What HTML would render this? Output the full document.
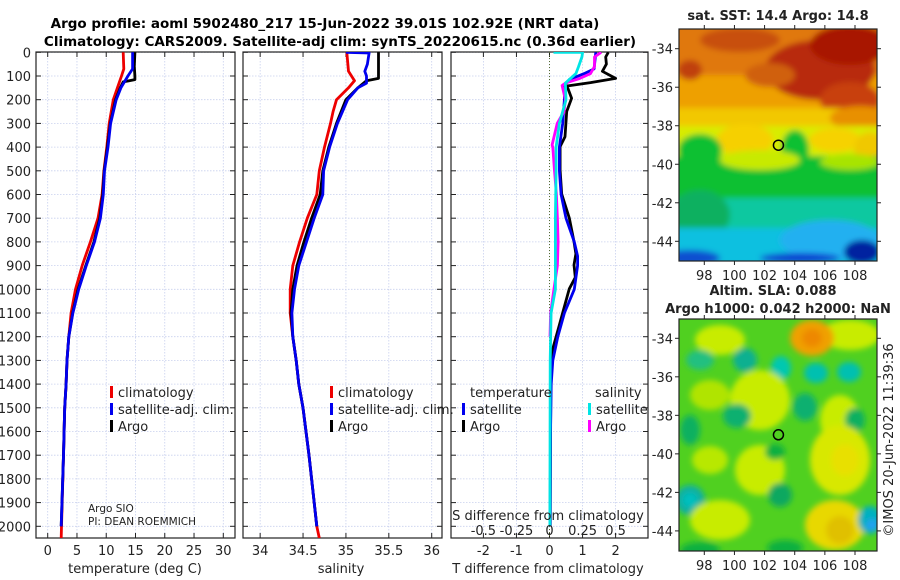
<!DOCTYPE html>
<html><head><meta charset="utf-8"><style>
html,body{margin:0;padding:0;background:#fff;}
svg{display:block;font-family:"DejaVu Sans","Liberation Sans",sans-serif;}
</style></head><body>
<svg id="fig" width="900" height="580" viewBox="0 0 900 580">
<defs>
<clipPath id="c1"><rect x="36" y="52" width="199" height="486"/></clipPath>
<clipPath id="c2"><rect x="243" y="52" width="199" height="486"/></clipPath>
<clipPath id="c3"><rect x="451" y="52" width="197" height="486"/></clipPath>
<clipPath id="cm1"><rect x="679" y="29" width="198" height="232"/></clipPath>
<clipPath id="cm2"><rect x="679" y="319" width="198" height="232"/></clipPath>
<filter id="bl" x="-20%" y="-20%" width="140%" height="140%"><feGaussianBlur stdDeviation="3"/></filter>
<filter id="bl2" x="-50%" y="-50%" width="200%" height="200%"><feGaussianBlur stdDeviation="6"/></filter>
</defs>
<text x="325" y="28" text-anchor="middle" font-size="13.5" font-weight="bold">Argo profile: aoml 5902480_217 15-Jun-2022 39.01S 102.92E (NRT data)</text>
<text x="340" y="46" text-anchor="middle" font-size="13.5" font-weight="bold">Climatology: CARS2009. Satellite-adj clim: synTS_20220615.nc (0.36d earlier)</text>
<g id="plots"></g>
<g id="maps"></g>
<text transform="translate(893,440) rotate(-90)" text-anchor="middle" font-size="13" fill="#222">©IMOS 20-Jun-2022 11:39:36</text>
</svg>
<script>
// depth grid for y axis
const depthTicks = [0,100,200,300,400,500,600,700,800,900,1000,1100,1200,1300,1400,1500,1600,1700,1800,1900,2000];
// temperature panel
const tempTicks = [0,5,10,15,20,25,30];
const tempClimDepth = [0,70,100,150,200,300,400,500,600,700,800,900,1000,1100,1200,1300,1400,1500,1700,2000,2050];
const tempClim = [12.9,13.0,12.6,11.9,11.2,10.5,10.1,9.6,9.3,8.6,7.3,5.9,4.75,4.0,3.6,3.3,3.15,2.9,2.7,2.35,2.3];
const tempSatDepth = [0,70,100,150,200,300,400,500,600,700,800,900,1000,1100,1200,1300,1400,1500,1700,2000];
const tempSat = [14.5,14.5,13.7,12.5,11.7,10.75,10.3,9.7,9.5,9.0,8.0,6.6,5.3,4.3,3.6,3.3,3.15,2.9,2.7,2.3];
const tempArgoDepth = [0,60,100,115,125,150,200,300,400,500,600,700,800,900,1000,1100,1200,1300,1400,1500,1700,2000];
const tempArgo = [14.9,14.8,14.9,14.9,12.9,12.4,11.6,10.7,10.2,9.65,9.4,8.9,7.9,6.5,5.2,4.25,3.6,3.3,3.15,2.9,2.7,2.3];
// salinity panel
const salTicks = [34,34.5,35,35.5,36];
const salClimDepth = [0,80,120,150,200,250,300,400,500,600,700,800,900,1000,1100,1200,1300,1400,1500,1700,2000,2050];
const salClim = [35.01,35.03,35.1,35.03,34.89,34.85,34.82,34.75,34.69,34.66,34.55,34.46,34.38,34.35,34.35,34.38,34.42,34.45,34.5,34.57,34.66,34.69];
const salSatDepth = [0,3,50,80,100,130,150,200,300,400,500,600,700,800,900,1000,1100,1200,1300,1400,1500,1700,2000];
const salSat = [35.0,35.27,35.25,35.22,35.24,35.24,35.14,35.02,34.9,34.81,34.74,34.73,34.63,34.54,34.45,34.4,34.37,34.38,34.42,34.45,34.5,34.57,34.66];
const salArgoDepth = [0,110,120,150,200,300,400,500,600,700,800,900,1000,1100,1200,1300,1400,1500,1700,2000];
const salArgo = [35.38,35.38,35.24,35.14,35.0,34.89,34.8,34.73,34.7,34.6,34.51,34.43,34.38,34.36,34.38,34.42,34.45,34.5,34.57,34.66];
// difference panel (T diff in deg C, S diff in psu)
const diffTicksT = [-2,-1,0,1,2];
const diffTicksS = [-0.5,-0.25,0,0.25,0.5];
const tDiffSatDepth = [0,70,90,115,140,200,300,400,500,600,700,800,860,900,1000,1100,1200,1300,1400,1600,2000];
const tDiffSat = [1.4,1.35,1.05,0.6,0.45,0.45,0.4,0.3,0.3,0.35,0.5,0.75,0.85,0.85,0.75,0.45,0.25,0.1,0.05,0.03,0.02];
const tDiffArgoDepth = [0,20,50,80,110,128,142,194,250,356,398,497,598,699,799,850,897,950,998,1099,1150,1250,1400,2000];
const tDiffArgo = [1.78,1.7,1.72,1.6,2.0,1.24,0.53,0.67,0.52,0.47,0.32,0.32,0.37,0.6,0.74,0.8,0.74,0.78,0.6,0.4,0.3,0.1,0.04,0.02];
const sDiffSatDepth = [0,0.5,20,60,90,130,200,300,400,500,700,1000,1100,1300,2000];
const sDiffSat = [0.03,0.25,0.245,0.22,0.2,0.12,0.125,0.075,0.05,0.05,0.045,0.045,0.012,0.005,0.003];
const sDiffArgoDepth = [0,20,60,90,110,130,140,200,250,300,391,400,500,600,700,800,900,1000,1100,1200];
const sDiffArgo = [0.39,0.34,0.34,0.31,0.23,0.12,0.095,0.12,0.11,0.058,0.02,0.025,0.038,0.052,0.06,0.065,0.06,0.033,0.008,0.004];
// map tick labels
const lonTicks = [98,100,102,104,106,108];
const latTicks = [-34,-36,-38,-40,-42,-44];
const floatLon = 102.92, floatLat = -39.01;

const NS = 'http://www.w3.org/2000/svg';
function mk(tag, attrs, parent){const e=document.createElementNS(NS,tag);for(const k in attrs)e.setAttribute(k,attrs[k]);parent.appendChild(e);return e;}
const plots = document.getElementById('plots');
const maps = document.getElementById('maps');
const Y0=52, Y1=538;
const yD = d => 52.3 + d*0.237;
function panel(x0,x1,xmin,xmax,ticks,name,clip,labelLeft){
  const g = mk('g',{},plots);
  
  
  const xs = v => x0 + (v-xmin)/(xmax-xmin)*(x1-x0);
  ticks.forEach(t=>{const l=mk('line',{x1:xs(t),x2:xs(t),y1:Y0,y2:Y1,stroke:'#c8d0ee','stroke-width':0.8,'stroke-dasharray':'1.5,1.5'},g);
    
    });
  depthTicks.forEach(d=>{const l=mk('line',{x1:x0,x2:x1,y1:yD(d),y2:yD(d),stroke:'#c8d0ee','stroke-width':0.8,'stroke-dasharray':'1.5,1.5'},g);
    
    
    mk('line',{x1:x0,x2:x0+5,y1:yD(d),y2:yD(d),stroke:'#222'},g);
    mk('line',{x1:x1-5,x2:x1,y1:yD(d),y2:yD(d),stroke:'#222'},g);
    if(labelLeft){const t=mk('text',{x:x0-5,y:yD(d)+5,'text-anchor':'end','font-size':13,fill:'#222'},g);t.textContent=d;
      
      }
  });
  const fr=mk('rect',{x:x0,y:Y0,width:x1-x0,height:Y1-Y0,fill:'none',stroke:'#222','stroke-width':1.2},g);
  
  
  return {g,xs};
}
function line(p,xs,depths,vals,color,w,name,clip){
  const pts = depths.map((d,i)=>xs(vals[i]).toFixed(1)+','+yD(d).toFixed(1)).join(' ');
  const pl = mk('polyline',{points:pts,fill:'none',stroke:color,'stroke-width':w,'stroke-linejoin':'round','clip-path':'url(#'+clip+')'},p);
  
  
}
function txt(p,x,y,s,size,name,anchor,extra){const t=mk('text',Object.assign({x:x,y:y,'font-size':size,fill:'#222','text-anchor':anchor||'start'},extra||{}),p);t.textContent=s;
  
  return t;}
function legend(p,x,y,items){
  items.forEach((it,i)=>{const yy=y+i*17;
    const r=mk('rect',{x:x,y:yy-11,width:3,height:12,fill:it[1]},p);
    
    
    txt(p,x+8,yy,it[0],13,'legend-entry');});
}
// Panel 1 temperature
const P1 = panel(36,235,-2,32,tempTicks,'temperature','c1',true);
tempTicks.forEach(t=>{mk('line',{x1:P1.xs(t),x2:P1.xs(t),y1:Y1,y2:Y1-5,stroke:'#222'},P1.g);mk('line',{x1:P1.xs(t),x2:P1.xs(t),y1:Y0,y2:Y0+5,stroke:'#222'},P1.g);txt(P1.g,P1.xs(t),555,t,13,'temp-tick-label','middle');});
line(P1.g,P1.xs,tempClimDepth,tempClim,'#ee0000',2.8,'temp-climatology-line','c1');
line(P1.g,P1.xs,tempArgoDepth,tempArgo,'#000',2.8,'temp-argo-line','c1');
line(P1.g,P1.xs,tempSatDepth,tempSat,'#0000ee',2.8,'temp-satellite-line','c1');
txt(P1.g,135,573,'temperature (deg C)',13,'temperature-axis-title','middle');
legend(P1.g,110,397,[['climatology','#ee0000'],['satellite-adj. clim.','#0000ee'],['Argo','#000']]);
txt(P1.g,88,512,'Argo SIO',10.5,'float-institution');
txt(P1.g,88,525,'PI: DEAN ROEMMICH',10.5,'float-pi');
// Panel 2 salinity
const P2 = panel(243,442,33.8,36.12,salTicks,'salinity','c2',false);
salTicks.forEach(t=>{mk('line',{x1:P2.xs(t),x2:P2.xs(t),y1:Y1,y2:Y1-5,stroke:'#222'},P2.g);mk('line',{x1:P2.xs(t),x2:P2.xs(t),y1:Y0,y2:Y0+5,stroke:'#222'},P2.g);txt(P2.g,P2.xs(t),555,t,13,'sal-tick-label','middle');});
line(P2.g,P2.xs,salClimDepth,salClim,'#ee0000',2.8,'sal-climatology-line','c2');
line(P2.g,P2.xs,salArgoDepth,salArgo,'#000',2.8,'sal-argo-line','c2');
line(P2.g,P2.xs,salSatDepth,salSat,'#0000ee',2.8,'sal-satellite-line','c2');
txt(P2.g,341,573,'salinity',13,'salinity-axis-title','middle');
legend(P2.g,330,397,[['climatology','#ee0000'],['satellite-adj. clim.','#0000ee'],['Argo','#000']]);
// Panel 3 differences
const P3 = panel(451,648,-2.98,2.98,diffTicksT,'difference','c3',false);
diffTicksT.forEach(t=>{mk('line',{x1:P3.xs(t),x2:P3.xs(t),y1:Y1,y2:Y1-5,stroke:'#222'},P3.g);mk('line',{x1:P3.xs(t),x2:P3.xs(t),y1:Y0,y2:Y0+5,stroke:'#222'},P3.g);txt(P3.g,P3.xs(t),555,t,13,'tdiff-tick-label','middle');});
const z=mk('line',{x1:P3.xs(0),x2:P3.xs(0),y1:Y0,y2:Y1,stroke:'#556b2f','stroke-dasharray':'1,2'},P3.g);


const xsS = v => P3.xs(v*4);
line(P3.g,P3.xs,tDiffArgoDepth,tDiffArgo,'#000',2.8,'tdiff-argo-line','c3');
line(P3.g,P3.xs,tDiffSatDepth,tDiffSat,'#0000ee',2.8,'tdiff-satellite-line','c3');
line(P3.g,xsS,sDiffArgoDepth,sDiffArgo,'#ff00ff',2.8,'sdiff-argo-line','c3');
line(P3.g,xsS,sDiffSatDepth,sDiffSat,'#00e5e5',2.8,'sdiff-satellite-line','c3');
txt(P3.g,548,520,'S difference from climatology',13,'sdiff-axis-title','middle');
diffTicksS.forEach(t=>{txt(P3.g,xsS(t),535,t,13,'sdiff-tick-label','middle');});
txt(P3.g,548,573,'T difference from climatology',13,'tdiff-axis-title','middle');
txt(P3.g,470,397,'temperature',13,'legend-header-temperature');
txt(P3.g,595,397,'salinity',13,'legend-header-salinity');
legend(P3.g,462,414,[['satellite','#0000ee'],['Argo','#000']]);
legend(P3.g,588,414,[['satellite','#00e5e5'],['Argo','#ff00ff']]);

// Maps
function mapAxes(y0,y1,latRef,name,clip,shapes,bg){
  const g=mk('g',{},maps);
  
  
  const lx = lon => 704.3 + 15.07*(lon-98);
  const ly = lat => latRef + 19.26*(-34-lat);
  const im=mk('g',{'clip-path':'url(#'+clip+')'},g);
  mk('rect',{x:679,y:y0,width:198,height:y1-y0,fill:bg},im);
  const bg2=mk('g',{filter:'url(#bl)'},im);
  shapes(bg2,y0);
  lonTicks.forEach(t=>{mk('line',{x1:lx(t),x2:lx(t),y1:y1,y2:y1+4,stroke:'#222'},g);mk('line',{x1:lx(t),x2:lx(t),y1:y0,y2:y0-4,stroke:'#222'},g);
    txt(g,lx(t),y1+19,t,13,'lon-tick-label','middle');});
  latTicks.forEach(t=>{mk('line',{x1:679,x2:675,y1:ly(t),y2:ly(t),stroke:'#222'},g);mk('line',{x1:877,x2:881,y1:ly(t),y2:ly(t),stroke:'#222'},g);
    txt(g,673,ly(t)+5,t,13,'lat-tick-label','end');});
  const fr=mk('rect',{x:679,y:y0,width:198,height:y1-y0,fill:'none',stroke:'#222','stroke-width':1.2},g);
  
  
  const c=mk('circle',{cx:lx(floatLon),cy:ly(floatLat),r:5,fill:'none',stroke:'#000','stroke-width':1.5},g);
  
  
}
function R(p,x,y,w,h,f){mk('rect',{x:x,y:y,width:w,height:h,fill:f},p);}
function E(p,cx,cy,rx,ry,f){mk('ellipse',{cx:cx,cy:cy,rx:rx,ry:ry,fill:f},p);}
mapAxes(29,261,48.7,'sst-map','cm1',function(p){
  R(p,670,20,220,60,'#e07810');
  R(p,670,75,220,35,'#eea000');
  E(p,820,70,55,30,'#b82c08');E(p,850,45,40,20,'#a81400');E(p,740,40,40,12,'#c85010');E(p,690,70,12,10,'#c04010');
  E(p,770,75,25,12,'#d06010');E(p,850,100,30,18,'#c84010');
  R(p,670,108,220,20,'#f2c800');
  E(p,860,118,30,12,'#e89000');
  R(p,670,126,220,30,'#d8ec00');
  E(p,745,140,28,16,'#f6d000');E(p,835,140,26,12,'#f6d200');E(p,870,150,16,18,'#f0c800');
  E(p,700,150,22,16,'#10c030');E(p,795,150,14,20,'#10c030');
  R(p,670,156,220,44,'#10c030');
  E(p,760,160,40,10,'#c8ea00');E(p,850,162,30,8,'#a8e400');
  R(p,670,198,220,30,'#10c8a0');
  E(p,700,215,30,25,'#10b060');
  R(p,670,228,220,40,'#10c0e0');
  E(p,830,240,50,20,'#20b0f0');
  E(p,862,252,18,12,'#0020a0');E(p,690,258,30,8,'#1050d0');E(p,800,258,40,5,'#1040d0');
},'#e8b000');
mapAxes(319,551,338.3,'sla-map','cm2',function(p){
  E(p,720,340,25,15,'#c8ec00');E(p,850,335,30,15,'#c8ec00');
  E(p,812,338,22,18,'#f0a000');E(p,812,338,10,9,'#ee8800');
  E(p,700,360,14,10,'#20c080');E(p,745,360,12,12,'#10b090');E(p,781,368,10,12,'#00c8b0');E(p,816,373,12,10,'#00c0b0');E(p,849,372,12,10,'#00c0b0');
  E(p,760,400,30,30,'#c8ec00');E(p,840,420,20,25,'#c8ec00');E(p,710,395,20,15,'#b0e400');
  E(p,737,416,14,12,'#10b070');E(p,805,407,12,14,'#10b070');E(p,690,430,10,15,'#10b060');E(p,855,420,10,12,'#10b060');
  E(p,840,460,30,35,'#d8e800');E(p,845,460,14,16,'#e8e000');E(p,760,470,25,25,'#c8ec00');E(p,710,460,18,14,'#b8e800');
  E(p,775,452,10,8,'#10b040');E(p,780,495,12,12,'#10a860');
  E(p,690,500,15,15,'#10b0a0');E(p,690,500,7,7,'#00c0c0');
  E(p,835,525,30,25,'#e8d800');E(p,840,530,14,14,'#e0c000');E(p,720,520,30,20,'#c8ec00');
  E(p,870,520,12,14,'#00b0c0');E(p,872,525,6,6,'#20a0f0');E(p,785,548,18,8,'#10b040');E(p,700,550,20,8,'#10b040');
},'#50d020');
txt(maps,778,20,'sat. SST: 14.4 Argo: 14.8',13,'sst-map-title','middle',{'font-weight':'bold'});
txt(maps,773,295,'Altim. SLA: 0.088',13,'sla-map-title-1','middle',{'font-weight':'bold'});
txt(maps,778,313,'Argo h1000: 0.042 h2000: NaN',13,'sla-map-title-2','middle',{'font-weight':'bold'});
</script>
</body></html>
